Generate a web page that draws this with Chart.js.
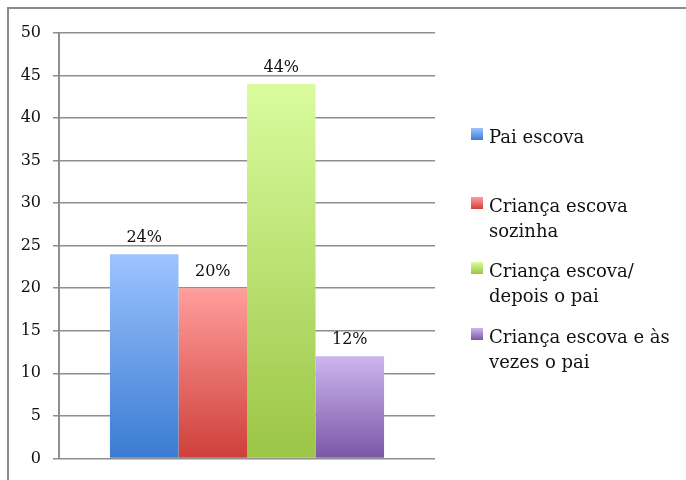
<!DOCTYPE html>
<html>
<head>
<meta charset="utf-8">
<script src="https://cdn.jsdelivr.net/npm/chart.js@4/dist/chart.umd.min.js"></script>
<style>
  html, body { margin: 0; padding: 0; background: #fff; }
  #wrap { width: 686px; height: 480px; position: relative; }
</style>
</head>
<body>
<div id="wrap"><canvas id="chart" width="686" height="480"></canvas></div>
<script>
const CATEGORIES = [''];
const SERIES_LABELS = [
  ['Pai escova'],
  ['Criança escova', 'sozinha'],
  ['Criança escova/', 'depois o pai'],
  ['Criança escova e às', 'vezes o pai'],
];
const SERIES_VALUES = [24, 20, 44, 12];
const VALUE_LABELS = ['24%', '20%', '44%', '12%'];
const Y_MIN = 0, Y_MAX = 50, Y_STEP = 5;

const TOP_COLORS = ['#9dc4ff', '#ff9e9c', '#dafc9e', '#cdb5ef'];
const BOTTOM_COLORS = ['#3a7bd2', '#cf3f3a', '#9bc546', '#7b57a7'];
const FONT = '"DejaVu Serif", serif';
const GRID = '#8e8e8e';

function barGradient(ctx) {
  const chart = ctx.chart;
  const y = chart.scales && chart.scales.y;
  if (!y || !chart.chartArea) return TOP_COLORS[ctx.datasetIndex];
  const top = y.getPixelForValue(ctx.raw);
  const bottom = y.getPixelForValue(0);
  const g = chart.ctx.createLinearGradient(0, top, 0, bottom);
  g.addColorStop(0, TOP_COLORS[ctx.datasetIndex]);
  g.addColorStop(1, BOTTOM_COLORS[ctx.datasetIndex]);
  return g;
}

// frame lines at top and left of picture
const framePlugin = {
  id: 'frame',
  beforeDraw(chart) {
    const c = chart.ctx;
    c.save();
    c.strokeStyle = '#8a8a8a';
    c.lineWidth = 2;
    c.beginPath();
    c.moveTo(8, 480); c.lineTo(8, 8); c.lineTo(686, 8);
    c.stroke();
    c.restore();
  }
};

// percent labels above each bar
const valueLabelPlugin = {
  id: 'valueLabels',
  afterDatasetsDraw(chart) {
    const c = chart.ctx;
    c.save();
    c.font = '16px ' + FONT;
    c.fillStyle = '#111';
    c.textAlign = 'center';
    c.textBaseline = 'alphabetic';
    chart.data.datasets.forEach((ds, i) => {
      const bar = chart.getDatasetMeta(i).data[0];
      c.fillText(VALUE_LABELS[i], bar.x, bar.y - 12.5);
    });
    c.restore();
  }
};

// legend on the right, with wrapped labels
const legendPlugin = {
  id: 'sideLegend',
  afterDraw(chart) {
    const c = chart.ctx;
    const baselines = [143, 212, 277, 343];
    c.save();
    c.font = '18px ' + FONT;
    c.textAlign = 'left';
    c.textBaseline = 'alphabetic';
    SERIES_LABELS.forEach((lines, i) => {
      const b = baselines[i];
      const g = c.createLinearGradient(0, b - 15, 0, b - 3);
      g.addColorStop(0, TOP_COLORS[i]);
      g.addColorStop(1, BOTTOM_COLORS[i]);
      c.fillStyle = g;
      c.fillRect(471, b - 15, 12, 12);
      c.fillStyle = '#111';
      lines.forEach((t, k) => c.fillText(t, 489, b + k * 25));
    });
    c.restore();
  }
};

new Chart(document.getElementById('chart'), {
  type: 'bar',
  data: {
    labels: CATEGORIES,
    datasets: SERIES_VALUES.map((v, i) => ({
      label: SERIES_LABELS[i].join(' '),
      data: [v],
      backgroundColor: barGradient,
      borderWidth: 0,
      categoryPercentage: 0.729,
      barPercentage: 1,
    })),
  },
  options: {
    responsive: false,
    animation: false,
    layout: { padding: { left: 0, top: 33, right: 251, bottom: 20 } },
    plugins: { legend: { display: false }, tooltip: { enabled: false } },
    scales: {
      x: { display: false },
      y: {
        min: Y_MIN, max: Y_MAX,
        afterFit(scale) { scale.width = 59; },
        ticks: { stepSize: Y_STEP, color: '#111', padding: 12, font: { family: FONT, size: 16 } },
        grid: { color: GRID, lineWidth: 1.5, tickLength: 6, tickColor: GRID },
        border: { color: GRID, width: 2 },
      },
    },
  },
  plugins: [framePlugin, valueLabelPlugin, legendPlugin],
});
</script>
</body>
</html>
